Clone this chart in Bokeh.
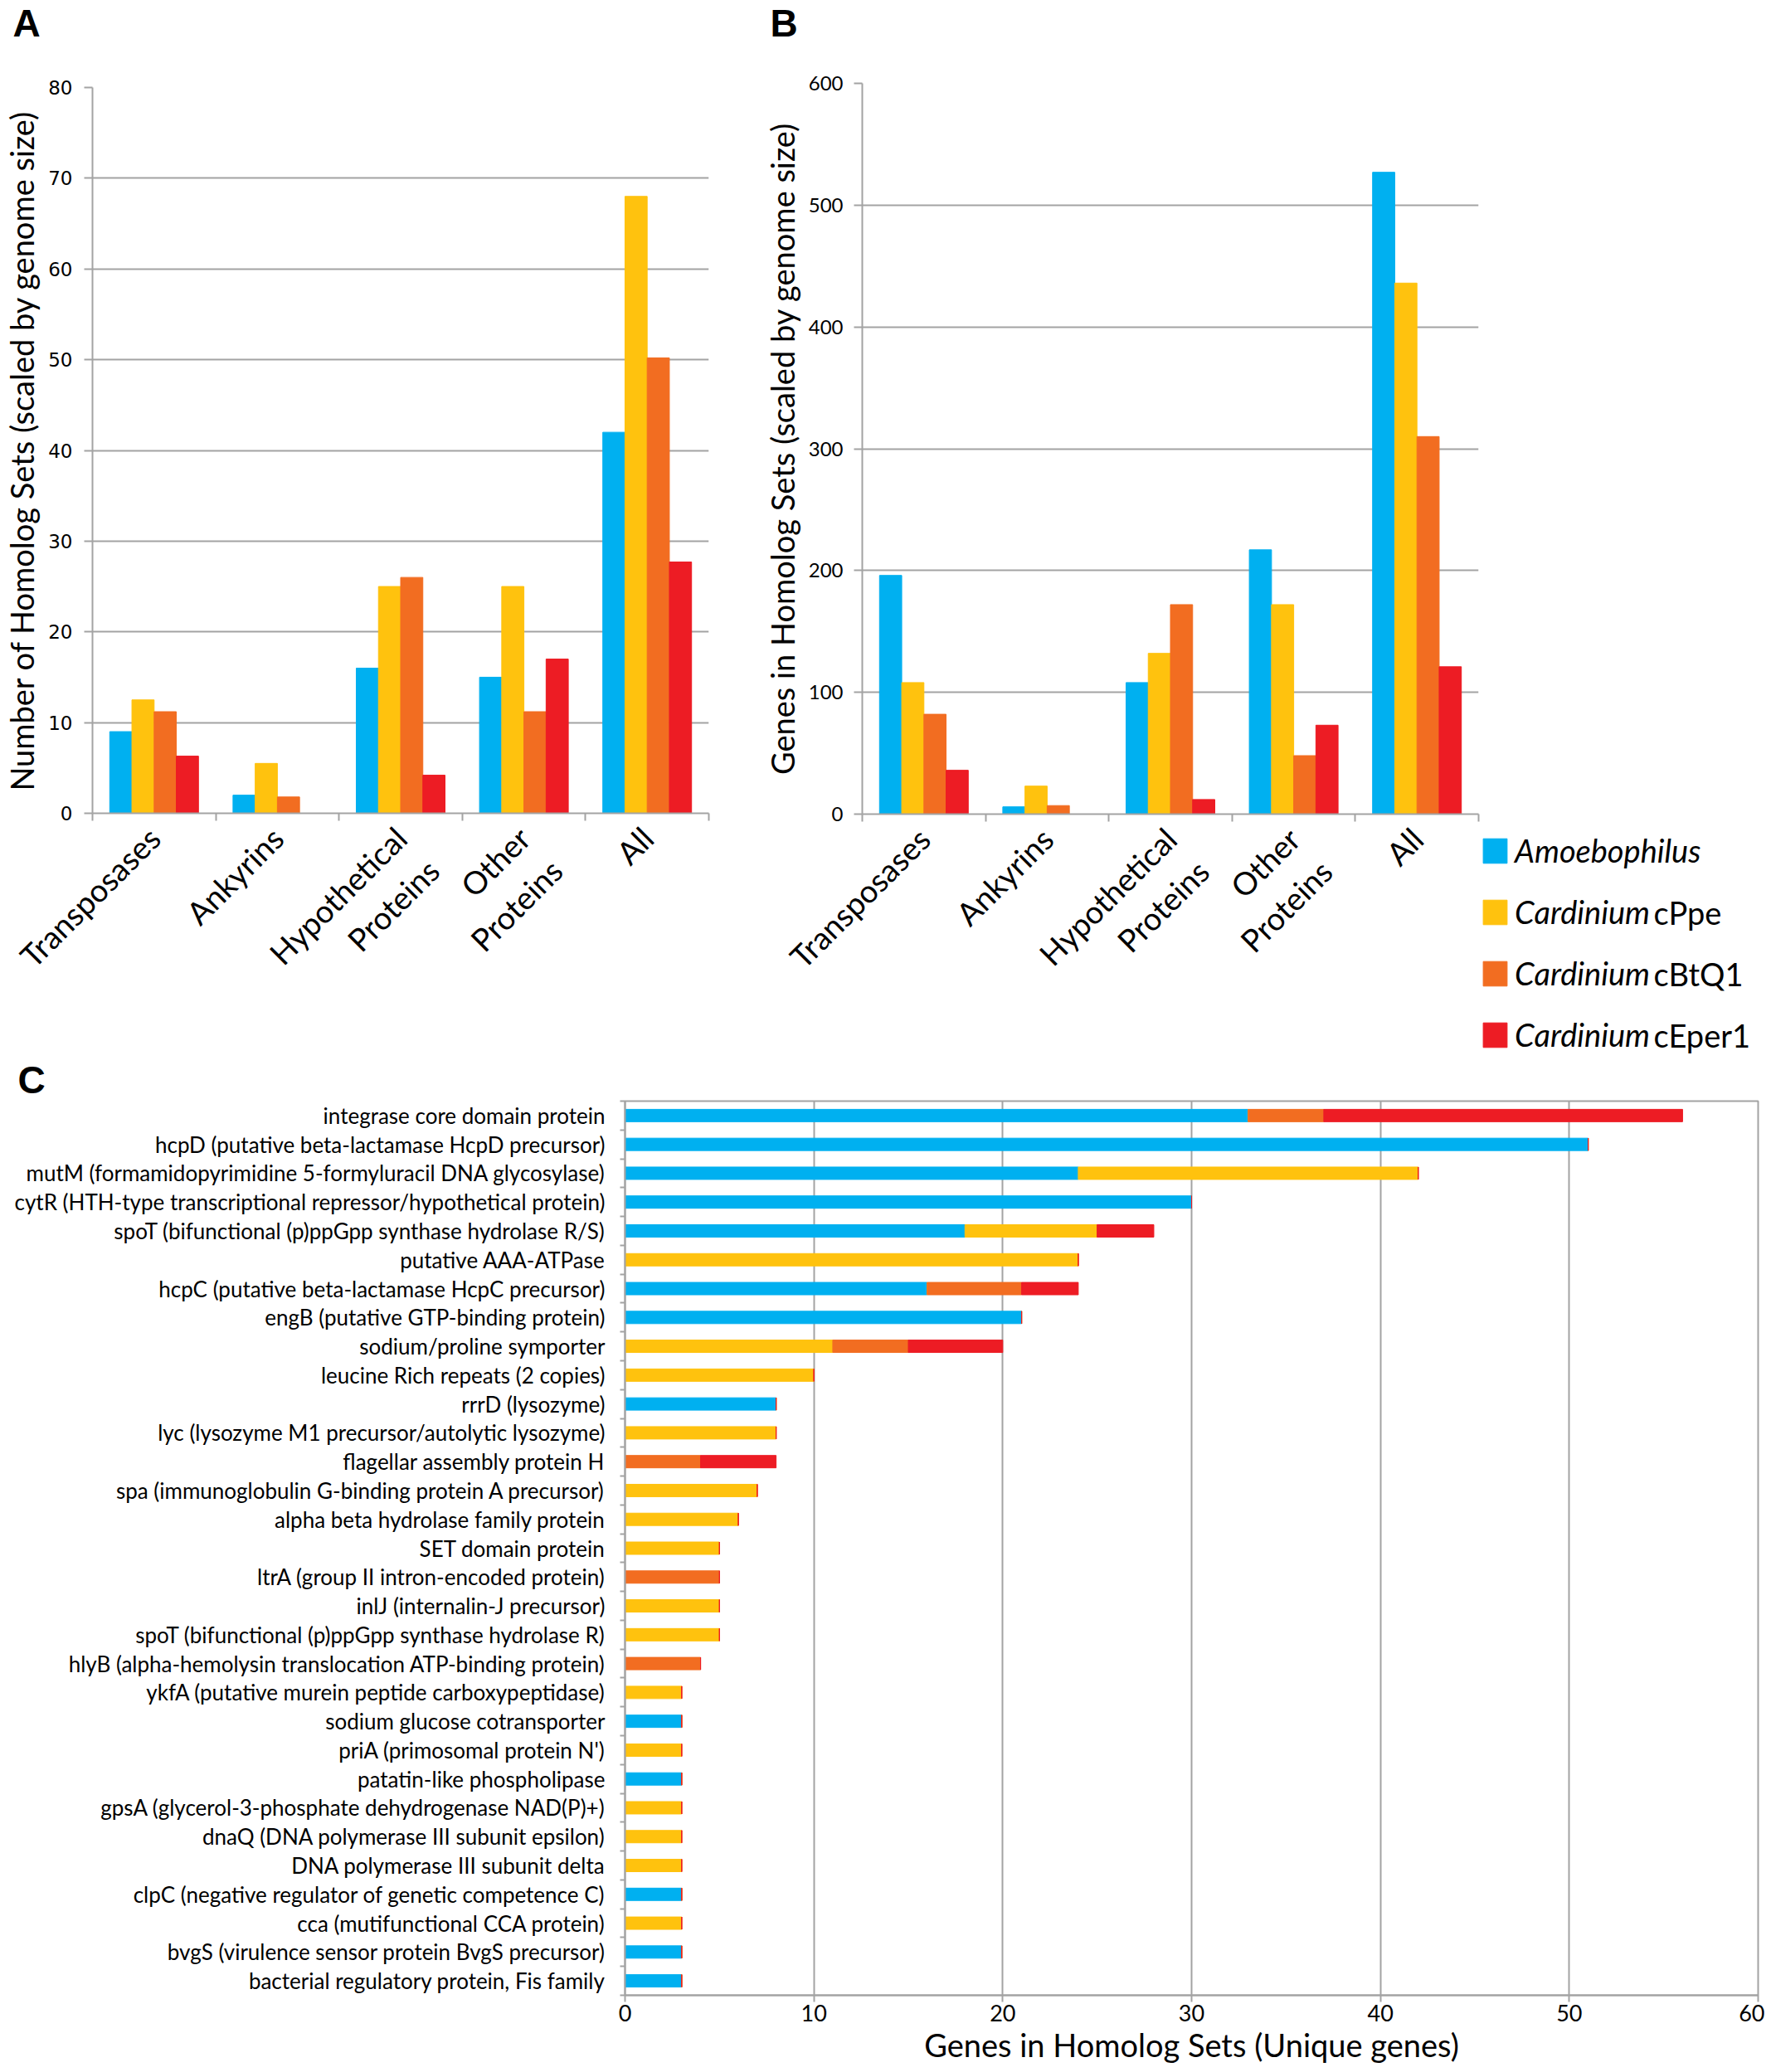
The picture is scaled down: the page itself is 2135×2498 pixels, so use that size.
import math
from bokeh.plotting import figure
from bokeh.layouts import column, row
from bokeh.models import (ColumnDataSource, FixedTicker, Label, Legend, LegendItem,
                          Range1d, Title, Spacer)
from bokeh.transform import dodge
from bokeh.embed import file_html
from bokeh.resources import INLINE

# ---------------- data ----------------
categories = ["Transposases", "Ankyrins", "Hypothetical\nProteins", "Other\nProteins", "All"]
legend_main = ["Amoebophilus", "Cardinium", "Cardinium", "Cardinium"]
legend_suffix = ["", "cPpe", "cBtQ1", "cEper1"]

a_amoeb = [9, 2, 16, 15, 42]
a_cppe = [12.5, 5.5, 25, 25, 68]
a_cbtq1 = [11.2, 1.8, 26, 11.2, 50.2]
a_ceper1 = [6.3, 0, 4.2, 17, 27.7]
a_yticks = [0, 10, 20, 30, 40, 50, 60, 70, 80]

b_amoeb = [196, 6, 108, 217, 527]
b_cppe = [108, 23, 132, 172, 436]
b_cbtq1 = [82, 7, 172, 48, 310]
b_ceper1 = [36, 0, 12, 73, 121]
b_yticks = [0, 100, 200, 300, 400, 500, 600]

genes = [
    "integrase core domain protein",
    "hcpD (putative beta-lactamase HcpD precursor)",
    "mutM (formamidopyrimidine 5-formyluracil DNA glycosylase)",
    "cytR (HTH-type transcriptional repressor/hypothetical protein)",
    "spoT (bifunctional (p)ppGpp synthase hydrolase R/S)",
    "putative AAA-ATPase",
    "hcpC (putative beta-lactamase HcpC precursor)",
    "engB (putative GTP-binding protein)",
    "sodium/proline symporter",
    "leucine Rich repeats (2 copies)",
    "rrrD (lysozyme)",
    "lyc (lysozyme M1 precursor/autolytic lysozyme)",
    "flagellar assembly protein H",
    "spa (immunoglobulin G-binding protein A precursor)",
    "alpha beta hydrolase family protein",
    "SET domain protein",
    "ltrA (group II intron-encoded protein)",
    "inlJ (internalin-J precursor)",
    "spoT (bifunctional (p)ppGpp synthase hydrolase R)",
    "hlyB (alpha-hemolysin translocation ATP-binding protein)",
    "ykfA (putative murein peptide carboxypeptidase)",
    "sodium glucose cotransporter",
    "priA (primosomal protein N')",
    "patatin-like phospholipase",
    "gpsA (glycerol-3-phosphate dehydrogenase NAD(P)+)",
    "dnaQ (DNA polymerase III subunit epsilon)",
    "DNA polymerase III subunit delta",
    "clpC (negative regulator of genetic competence C)",
    "cca (mutifunctional CCA protein)",
    "bvgS (virulence sensor protein BvgS precursor)",
    "bacterial regulatory protein, Fis family",
]
c_amoeb = [33, 51, 24, 30, 18, 0, 16, 21, 0, 0, 8, 0, 0, 0, 0, 0,
           0, 0, 0, 0, 0, 3, 0, 3, 0, 0, 0, 3, 0, 3, 3]
c_cppe = [0, 0, 18, 0, 7, 24, 0, 0, 11, 10, 0, 8, 0, 7, 6, 5,
          0, 5, 5, 0, 3, 0, 3, 0, 3, 3, 3, 0, 3, 0, 0]
c_cbtq1 = [4, 0, 0, 0, 0, 0, 5, 0, 4, 0, 0, 0, 4, 0, 0, 0,
           5, 0, 0, 4, 0, 0, 0, 0, 0, 0, 0, 0, 0, 0, 0]
c_ceper1 = [19, 0, 0, 0, 3, 0, 3, 0, 5, 0, 0, 0, 4, 0, 0, 0,
            0, 0, 0, 0, 0, 0, 0, 0, 0, 0, 0, 0, 0, 0, 0]
c_xticks = [0, 10, 20, 30, 40, 50, 60]

# ---------------- style ----------------
GRID = "#A3A3A3"
COLORS = ["#00B0F0", "#FFC20E", "#F26D21", "#ED1C24"]
FONT = "Lato"
KEYS = ["amoeb", "cppe", "cbtq1", "ceper1"]
OFFSETS = [-0.27, -0.09, 0.09, 0.27]
ROW_H = 1273

centers = [i + 0.5 for i in range(len(categories))]
bounds = list(range(len(categories) + 1))
# two-line labels get a blank first line so their first line sits where single labels sit
tick_text = [(" \n" + c) if "\n" in c else c for c in categories]


def letter_title(text, offset, standoff, valign):
    return Title(text=text, align="left", offset=offset, standoff=standoff,
                 vertical_align=valign,
                 text_font="Liberation Sans", text_font_size="46px",
                 text_font_style="bold", text_color="black")


def add_panel_letter(p, text, offset, spacer_standoff):
    # an empty spacer title next to the frame pushes the letter to the top edge
    p.add_layout(Title(text=" ", text_font_size="10px", standoff=spacer_standoff), "above")
    p.add_layout(letter_title(text, offset, 0, "top"), "above")


def style_axes(p):
    for ax in (p.xaxis[0], p.yaxis[0]):
        ax.axis_line_color = GRID
        ax.axis_line_width = 2
        ax.major_tick_line_color = GRID
        ax.major_tick_line_width = 2
        ax.minor_tick_line_color = GRID
        ax.minor_tick_line_width = 2
        ax.major_label_text_color = "black"
        ax.axis_label_text_color = "black"
        ax.axis_label_text_font_style = "normal"
        ax.axis_label_text_font = FONT


def bar_panel(vals, yticks, ylabel, width, bl, br, bt, bb,
              tick_font, tick_size, tick_standoff, label_standoff):
    p = figure(width=width, height=ROW_H, x_range=Range1d(0, len(categories)),
               y_range=Range1d(0, yticks[-1]), output_backend="svg", toolbar_location=None,
               min_border_left=bl, min_border_right=br, min_border_top=bt,
               min_border_bottom=bb)
    data = dict(x=centers)
    for k, v in zip(KEYS, vals):
        data[k] = v
    src = ColumnDataSource(data)
    for k, off, col in zip(KEYS, OFFSETS, COLORS):
        p.vbar(x=dodge("x", off, range=p.x_range), top=k, width=0.18,
               color=col, source=src)
    p.outline_line_color = None
    p.xgrid.visible = False
    p.ygrid.grid_line_color = GRID
    p.ygrid.grid_line_width = 2
    style_axes(p)
    p.xaxis.ticker = FixedTicker(ticks=centers, minor_ticks=bounds)
    p.xaxis.major_label_overrides = dict(zip(centers, tick_text))
    p.xaxis.major_tick_out = 0
    p.xaxis.major_tick_in = 0
    p.xaxis.minor_tick_out = 9
    p.xaxis.minor_tick_in = 0
    p.xaxis.major_label_orientation = math.pi / 4
    p.xaxis.major_label_text_font = FONT
    p.xaxis.major_label_text_font_size = "38px"
    p.xaxis.major_label_standoff = 14
    p.yaxis.ticker = FixedTicker(ticks=yticks)
    p.yaxis.minor_tick_out = 0
    p.yaxis.minor_tick_in = 0
    p.yaxis.major_tick_out = 10
    p.yaxis.major_tick_in = 0
    p.yaxis.major_label_text_font = tick_font
    p.yaxis.major_label_text_font_size = tick_size
    p.yaxis.major_label_standoff = tick_standoff
    p.yaxis.axis_label = ylabel
    p.yaxis.axis_label_text_font_size = "38px"
    p.yaxis.axis_label_standoff = label_standoff
    return p, src


pa, src_a = bar_panel([a_amoeb, a_cppe, a_cbtq1, a_ceper1], a_yticks,
                      "Number of Homolog Sets (scaled by genome size)",
                      905, 107, 51, 105, 293, "DejaVu Sans", "23px", 14, 6)
add_panel_letter(pa, "A", -96, 37)
pb, src_b = bar_panel([b_amoeb, b_cppe, b_cbtq1, b_ceper1], b_yticks,
                      "Genes in Homolog Sets (scaled by genome size)",
                      879, 134, 2, 100, 292, FONT, "24px", 13, 6)
add_panel_letter(pb, "B", -111, 32)

# ---------------- legend (own small canvas under the right end of B) ----------------
LEG_H = 273
LEG_SHIFT = 1
lf = figure(width=343, height=LEG_H, x_range=Range1d(0, 1), y_range=Range1d(0, 1),
            output_backend="svg", toolbar_location=None, x_axis_location=None,
            y_axis_location=None, min_border=0)
lf.outline_line_color = None
lf.grid.visible = False
swatches = []
for k, col in zip(KEYS, COLORS):
    r = lf.vbar(x="x", top=k, width=0.18, color=col, source=src_b)
    r.visible = False
    swatches.append(r)
legend = Legend(items=[LegendItem(label=lab, renderers=[r]) for lab, r in zip(legend_main, swatches)],
                location=(0, LEG_SHIFT), orientation="vertical", padding=0, margin=0,
                spacing=24, glyph_width=36, glyph_height=37, label_height=50,
                label_standoff=6, label_text_font=FONT, label_text_font_style="italic",
                label_text_font_size="38px", label_text_color="black",
                inactive_fill_alpha=0, border_line_color=None, background_fill_alpha=0)
lf.add_layout(legend)
for k, suf in enumerate(legend_suffix):
    if suf:
        lf.add_layout(Label(x=209, y=25 + LEG_SHIFT + 74 * (3 - k), x_units="screen",
                            y_units="screen", text=suf, text_font=FONT, text_font_size="38px",
                            text_baseline="middle", text_color="black"))
legend_col = column(Spacer(width=343, height=ROW_H - LEG_H), lf)

# ---------------- panel C ----------------
n = len(genes)
rows_y = [n - i - 0.5 for i in range(n)]
pc = figure(width=2127, height=1217, x_range=Range1d(0, c_xticks[-1]), y_range=Range1d(0, n),
            output_backend="svg", toolbar_location=None,
            min_border_left=753, min_border_right=8, min_border_top=53, min_border_bottom=78,
            title=letter_title("C", -732, 0, "bottom"))
src_c = ColumnDataSource(dict(y=rows_y, amoeb=c_amoeb, cppe=c_cppe, cbtq1=c_cbtq1, ceper1=c_ceper1))
pc.hbar_stack(KEYS, y="y", height=0.43, color=COLORS, source=src_c)
pc.outline_line_color = GRID
pc.outline_line_width = 2
pc.ygrid.visible = False
pc.xgrid.grid_line_color = GRID
pc.xgrid.grid_line_width = 2
style_axes(pc)
pc.xaxis.ticker = FixedTicker(ticks=c_xticks)
pc.xaxis.major_tick_out = 8
pc.xaxis.major_tick_in = 0
pc.xaxis.minor_tick_out = 0
pc.xaxis.minor_tick_in = 0
pc.xaxis.major_label_text_font = FONT
pc.xaxis.major_label_text_font_size = "27px"
pc.xaxis.major_label_standoff = 3
pc.xaxis.axis_label = "Genes in Homolog Sets (Unique genes)"
pc.xaxis.axis_label_text_font_size = "38px"
pc.xaxis.axis_label_standoff = 2
pc.yaxis.ticker = FixedTicker(ticks=rows_y, minor_ticks=list(range(n + 1)))
pc.yaxis.major_label_overrides = dict(zip(rows_y, genes))
pc.yaxis.major_tick_out = 0
pc.yaxis.major_tick_in = 0
pc.yaxis.minor_tick_out = 6
pc.yaxis.minor_tick_in = 0
pc.yaxis.major_label_text_font = FONT
pc.yaxis.major_label_text_font_size = "26px"
pc.yaxis.major_label_standoff = 18

layout = column(row(column(pa), column(pb), legend_col), pc)
open("out.html", "w").write(file_html(layout, INLINE))
